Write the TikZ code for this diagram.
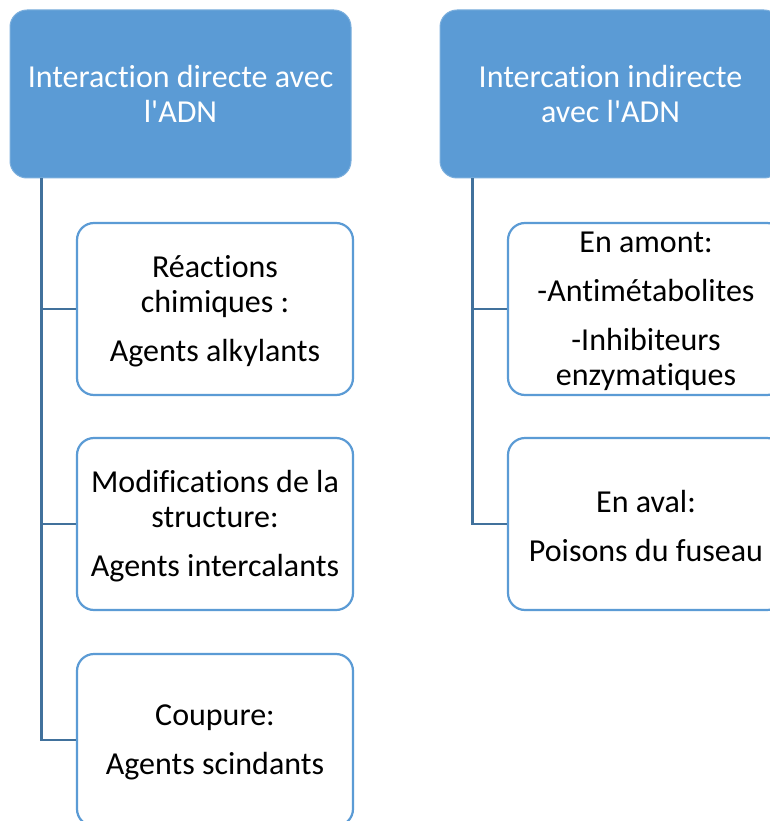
\documentclass[tikz,border=0pt]{standalone}
\usepackage{fontspec}
\setmainfont[Ligatures={NoCommon}]{Carlito}
\definecolor{hdrfill}{HTML}{5B9BD5}
\definecolor{boxline}{HTML}{5B9BD5}
\definecolor{connline}{HTML}{41719C}
\begin{document}
\begin{tikzpicture}[x=1pt,y=-1pt,
  txt/.style={font=\fontsize{32pt}{35pt}\selectfont, align=center, inner sep=0pt},
  header/.style={txt, rounded corners=17pt, fill=hdrfill, draw=hdrfill!80!white, line width=1pt, text=white,
    minimum width=341pt, minimum height=168pt},
  child/.style={rounded corners=17pt, fill=white, draw=boxline, line width=2.2pt,
    minimum width=276pt, minimum height=172pt, inner sep=0pt},
  ctext/.style={txt, text=black, yshift=-2pt},
  conn/.style={draw=connline, line width=2.2pt}]
\clip (0,0) rectangle (770,821);
\useasboundingbox (0,0) rectangle (770,821);
\fill[white] (0,0) rectangle (770,821);

\node[header] (h1) at (180.5,94) {Interaction directe avec\\l\textquotesingle ADN};
\node[header] (h2) at (610.5,94) {Intercation indirecte\\avec l\textquotesingle ADN};

\node[child] (c1) at (215,309) {};
\node[child] (c2) at (215,524) {};
\node[child] (c3) at (215,740) {};
\node[child] (d1) at (646,309) {};
\node[child] (d2) at (646,524) {};

\draw[conn] ([xshift=32pt]h1.south west) |- (c1.west);
\draw[conn] ([xshift=32pt]h1.south west) |- (c2.west);
\draw[conn] ([xshift=32pt]h1.south west) |- (c3.west);
\draw[conn] ([xshift=33pt]h2.south west) |- (d1.west);
\draw[conn] ([xshift=33pt]h2.south west) |- (d2.west);

\node[ctext] (tc1) at (c1) {Réactions\\chimiques :\\[14pt]Agents alkylants};
\node[ctext] (tc2) at (c2) {Modifications de la\\structure:\\[14pt]Agents intercalants};
\node[ctext] (tc3) at (c3) {Coupure:\\[14pt]Agents scindants};
\node[ctext] (td1) at (d1) {En amont:\\[14pt]-Antimétabolites\\[14pt]-Inhibiteurs\\enzymatiques};
\node[ctext] (td2) at (d2) {En aval:\\[14pt]Poisons du fuseau};
\end{tikzpicture}
\end{document}
